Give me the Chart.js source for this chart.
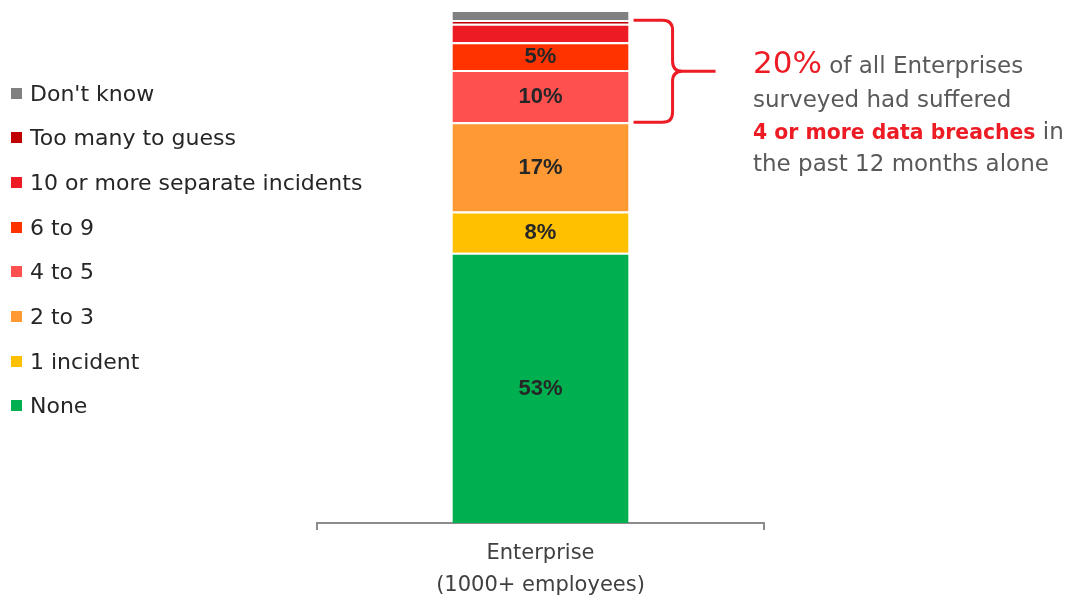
<!DOCTYPE html>
<html>
<head>
<meta charset="utf-8">
<script src="https://cdn.jsdelivr.net/npm/chart.js@4.4.1/dist/chart.umd.min.js"></script>
<style>
  body { margin: 0; background: #fff; }
  #wrap { position: relative; width: 1074px; height: 601px; overflow: hidden; }
  #chart { position: absolute; left: 0; top: 0; }
  .leg { position: absolute; left: 11px; height: 22px; display: flex; align-items: center;
         font: 22px "DejaVu Sans", sans-serif; color: #262626; white-space: nowrap; }
  .leg span.box { width: 11px; height: 11px; margin-right: 8px; }
  .note { position: absolute; left: 753px; font: 23px/1 "DejaVu Sans", sans-serif; color: #595959; white-space: nowrap; }
  .red { color: #ED1C24; }
</style>
</head>
<body>
<div id="wrap">
  <canvas id="chart" width="1074" height="601"></canvas>
  <div id="legend"></div>
  <div class="note" style="top:47px"><span class="red" style="font-size:31px">20%</span> of all Enterprises</div>
  <div class="note" style="top:88px">surveyed had suffered</div>
  <div class="note" style="top:120px"><span class="red" style="font-size:20.4px;font-weight:bold">4 or more data breaches</span> in</div>
  <div class="note" style="top:152px">the past 12 months alone</div>
</div>
<script>
// bottom-to-top order of the stack
const categories = [["Enterprise", "(1000+ employees)"]];
const seriesNames = ["None", "1 incident", "2 to 3", "4 to 5", "6 to 9", "10 or more separate incidents", "Too many to guess", "Don't know"];
const seriesValues = [52.7, 8.0, 17.4, 10.2, 5.4, 3.6, 0.7, 2.0];
const seriesColors = ["#00B050", "#FFC000", "#FF9933", "#FF5050", "#FF3300", "#ED1C24", "#C00000", "#808080"];
const bracketFrom = 3; // "4 to 5" up to "Too many to guess"
const bracketTo = 6;

// legend, top item first
const legendEl = document.getElementById("legend");
for (let i = seriesNames.length - 1; i >= 0; i--) {
  const row = document.createElement("div");
  row.className = "leg";
  row.style.top = (82 + (seriesNames.length - 1 - i) * 44.7) + "px";
  row.innerHTML = '<span class="box" style="background:' + seriesColors[i] + '"></span>' + seriesNames[i];
  legendEl.appendChild(row);
}

const valueLabels = {
  id: "valueLabels",
  afterDatasetsDraw(chart) {
    const ctx = chart.ctx;
    ctx.save();
    ctx.font = "bold 22px 'Liberation Sans', Arial, sans-serif";
    ctx.fillStyle = "#262626";
    ctx.textAlign = "center";
    ctx.textBaseline = "middle";
    chart.data.datasets.forEach((ds, i) => {
      const bar = chart.getDatasetMeta(i).data[0];
      const v = ds.data[0];
      if (v >= 5) ctx.fillText(Math.round(v) + "%", bar.x, (bar.y + bar.base) / 2 + 1);
    });
    ctx.restore();
  }
};

const brace = {
  id: "brace",
  afterDraw(chart) {
    const ctx = chart.ctx;
    const y = chart.scales.y;
    const bar = chart.getDatasetMeta(0).data[0];
    let below = 0;
    for (let i = 0; i < bracketFrom; i++) below += seriesValues[i];
    let upto = below;
    for (let i = bracketFrom; i <= bracketTo; i++) upto += seriesValues[i];
    const top = y.getPixelForValue(upto);
    const bottom = y.getPixelForValue(below);
    const mid = (top + bottom) / 2;
    const x0 = bar.x + bar.width / 2 + 5;
    const xm = x0 + 39, r = 10, xTip = x0 + 82;
    ctx.save();
    ctx.strokeStyle = "#ED1C24";
    ctx.lineWidth = 3;
    ctx.beginPath();
    ctx.moveTo(x0, top);
    ctx.lineTo(xm - r, top);
    ctx.quadraticCurveTo(xm, top, xm, top + r);
    ctx.lineTo(xm, mid - r);
    ctx.quadraticCurveTo(xm, mid, xm + r, mid);
    ctx.lineTo(xTip, mid);
    ctx.moveTo(xm + r, mid);
    ctx.quadraticCurveTo(xm, mid, xm, mid + r);
    ctx.lineTo(xm, bottom - r);
    ctx.quadraticCurveTo(xm, bottom, xm - r, bottom);
    ctx.lineTo(x0, bottom);
    ctx.stroke();
    ctx.restore();
  }
};

new Chart(document.getElementById("chart"), {
  type: "bar",
  data: {
    labels: categories,
    datasets: seriesNames.map((name, i) => ({
      label: name,
      data: [seriesValues[i]],
      backgroundColor: seriesColors[i],
      borderColor: "#ffffff",
      borderWidth: { top: 2, bottom: 0, left: 0, right: 0 },
      borderSkipped: false,
      categoryPercentage: 1,
      barPercentage: 0.394
    }))
  },
  options: {
    responsive: false,
    animation: false,
    layout: { padding: { left: 317, right: 310, top: 10, bottom: 0 } },
    plugins: { legend: { display: false }, tooltip: { enabled: false } },
    scales: {
      x: {
        stacked: true,
        afterFit: (scale) => { scale.height = 78; },
        border: { display: true, color: "#8c8c8c", width: 2 },
        grid: { display: true, offset: true, drawOnChartArea: false, drawTicks: true, tickLength: 7, lineWidth: 2, color: "#8c8c8c" },
        ticks: { color: "#404040", padding: 7, font: { family: "'DejaVu Sans', sans-serif", size: 21, lineHeight: 1.55 } }
      },
      y: { stacked: true, display: false, min: 0, max: 100 }
    }
  },
  plugins: [valueLabels, brace]
});
</script>
</body>
</html>
